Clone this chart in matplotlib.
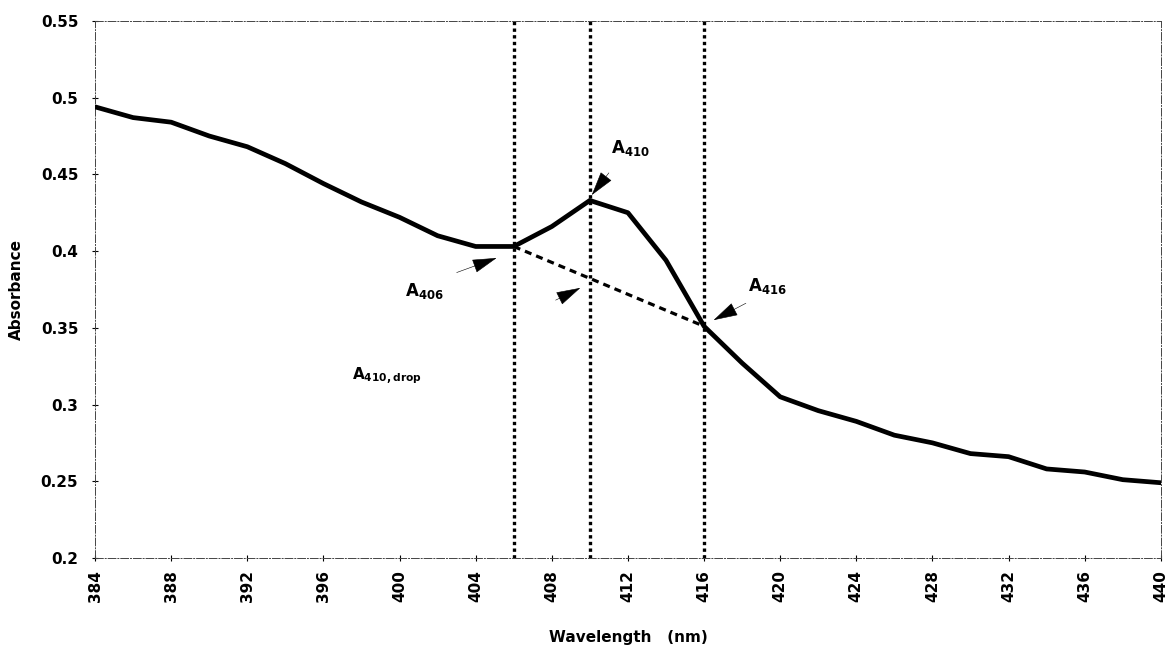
import matplotlib

matplotlib.use("Agg")
import matplotlib.pyplot as plt

# absorbance spectrum
wavelength = [384, 386, 388, 390, 392, 394, 396, 398, 400, 402, 404, 406,
              408, 410, 412, 414, 416, 418, 420, 422, 424, 426, 428, 430,
              432, 434, 436, 438, 440]
absorbance = [0.494, 0.487, 0.484, 0.475, 0.468, 0.457, 0.444, 0.432, 0.422,
              0.410, 0.403, 0.403, 0.416, 0.433, 0.425, 0.394, 0.351, 0.327,
              0.305, 0.296, 0.289, 0.280, 0.275, 0.268, 0.266, 0.258, 0.256,
              0.251, 0.249]

# baseline between A406 and A416, and the marker wavelengths
baseline_x = [406, 416]
baseline_y = [0.403, 0.351]
marker_lines = [406, 410, 416]

x_ticks = list(range(384, 441, 4))
y_ticks = [0.2, 0.25, 0.3, 0.35, 0.4, 0.45, 0.5, 0.55]
y_tick_labels = ["0.2", "0.25", "0.3", "0.35", "0.4", "0.45", "0.5", "0.55"]

# (label, text position, arrow tip, arrow tail)
callouts = [
    ("410", (411.1, 0.467), (410.1, 0.4365), (411.0, 0.451)),
    ("406", (400.3, 0.374), (405.1, 0.3955), (403.0, 0.386)),
    ("416", (418.3, 0.377), (416.5, 0.355), (418.2, 0.366)),
    (None, None, (409.5, 0.376), (408.2, 0.368)),
]
drop_label = ("410,drop", (397.5, 0.319))

plt.rcParams["font.family"] = ["DejaVu Sans"]
plt.rcParams["font.weight"] = "bold"
plt.rcParams["mathtext.fontset"] = "custom"
plt.rcParams["mathtext.rm"] = "DejaVu Sans:bold"
plt.rcParams["mathtext.bf"] = "DejaVu Sans:bold"

fig = plt.figure(figsize=(11.69, 6.48), dpi=100)
ax = fig.add_axes([0.0813, 0.139, 0.9117, 0.8287])

ax.plot(wavelength, absorbance, color="black", lw=3.4, solid_joinstyle="round",
        solid_capstyle="round", zorder=3)
ax.plot(baseline_x, baseline_y, color="black", lw=2.3,
        linestyle=(0, (2.2, 1.6)), zorder=3)
for wl in marker_lines:
    ax.axvline(wl, color="black", lw=2.4, linestyle=(0, (1.0, 1.0)), zorder=2)

for sub, text_pos, tip, tail in callouts:
    if sub is not None:
        ax.text(text_pos[0], text_pos[1], "A$_{\\mathrm{" + sub + "}}$",
                fontsize=12, va="center", ha="left")
    ax.annotate("", xy=tip, xytext=tail,
                arrowprops=dict(arrowstyle="-|>,head_length=1.6,head_width=0.45",
                                lw=0.4, color="black", shrinkA=0, shrinkB=0))

ax.text(drop_label[1][0], drop_label[1][1],
        "A$_{\\mathrm{" + drop_label[0] + "}}$", fontsize=11, va="center",
        ha="left")

ax.set_xlim(384, 440)
ax.set_ylim(0.2, 0.55)
ax.set_xticks(x_ticks)
ax.set_xticklabels([str(t) for t in x_ticks], rotation=90, fontsize=11,
                   fontweight="bold")
ax.set_yticks(y_ticks)
ax.set_yticklabels(y_tick_labels, fontsize=11, fontweight="bold")
ax.tick_params(direction="inout", length=4, width=0.8)
ax.tick_params(axis="y", pad=10)
ax.tick_params(axis="x", pad=7)

for side in ["left", "right", "top", "bottom"]:
    ax.spines[side].set_linewidth(0.7)
    ax.spines[side].set_color("#444444")
    ax.spines[side].set_linestyle((0, (8, 2, 1, 2)))

ax.set_xlabel("Wavelength   (nm)", fontsize=11, fontweight="bold", labelpad=20)
ax.set_ylabel("Absorbance", fontsize=11, fontweight="bold", labelpad=12)

fig.savefig("out.png", dpi=100)
